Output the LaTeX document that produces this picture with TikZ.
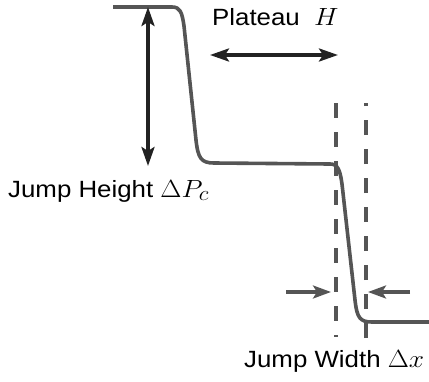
\documentclass[tikz,border=0pt]{standalone}
\usepackage{fontspec}
\setmainfont{Liberation Sans}
\usetikzlibrary{arrows.meta}
\definecolor{curvegray}{HTML}{555555}
\definecolor{arrowdark}{HTML}{222222}
\newcommand{\mth}[1]{{\fontsize{28}{32}\selectfont$#1$}}
\newcommand{\wide}[1]{\scalebox{1.1}[1]{#1}}
\tikzset{
  curveline/.style={draw=curvegray, line width=3.6pt, line join=round},
  bigarrow/.style={draw=arrowdark, line width=3.4pt, {Stealth[length=19pt,width=13pt,inset=4pt]}-{Stealth[length=19pt,width=13pt,inset=4pt]}},
  smallarrow/.style={draw=curvegray, line width=3.2pt, -{Stealth[length=18pt,width=13pt,inset=4pt]}},
  guide/.style={draw=curvegray, line width=3.4pt, dash pattern=on 15pt off 14pt},
  lbl/.style={font=\fontsize{23.5}{28}\selectfont, inner sep=0pt, anchor=base west, text=black}
}
\begin{document}
\begin{tikzpicture}[x=1pt,y=-1pt]
\useasboundingbox (0,0) rectangle (429,381);
% curve
\draw[curveline] (113,7) -- (172,7)
  .. controls (180,7) and (182,12) .. (184,26)
  -- (196,140)
  .. controls (198,158) and (201,163) .. (214,163)
  -- (330,164)
  .. controls (338,164) and (340,170) .. (342,184)
  -- (355,300)
  .. controls (357,318) and (360,322) .. (372,322)
  -- (429,322);
% named points
\coordinate (htop) at (148,7);
\coordinate (hbot) at (148,166);
\coordinate (pl) at (210,55);
\coordinate (pr) at (338,55);
\coordinate (dlt) at (336,103);
\coordinate (dlb) at (336,337);
\coordinate (drt) at (366,103);
\coordinate (drb) at (366,338);
\coordinate (wl0) at (286,292);
\coordinate (wl1) at (331,292);
\coordinate (wr0) at (410,292);
\coordinate (wr1) at (368,292);
% arrows
\draw[bigarrow] (htop) -- (hbot);
\draw[bigarrow] (pl) -- (pr);
\draw[guide] (dlt) -- (dlb);
\draw[guide] (drb) -- (drt);
\draw[smallarrow] (wl0) -- (wl1);
\draw[smallarrow] (wr0) -- (wr1);
% labels
\node[lbl] (plateau) at (212,25) {\wide{Plateau\hspace{13pt}\mth{H}}};
\node[lbl] (height) at (8,197) {\wide{Jump Height \mth{\Delta P_c}}};
\node[lbl] (width) at (244,367) {\wide{Jump Width \mth{\Delta x}}};
\end{tikzpicture}
\end{document}
